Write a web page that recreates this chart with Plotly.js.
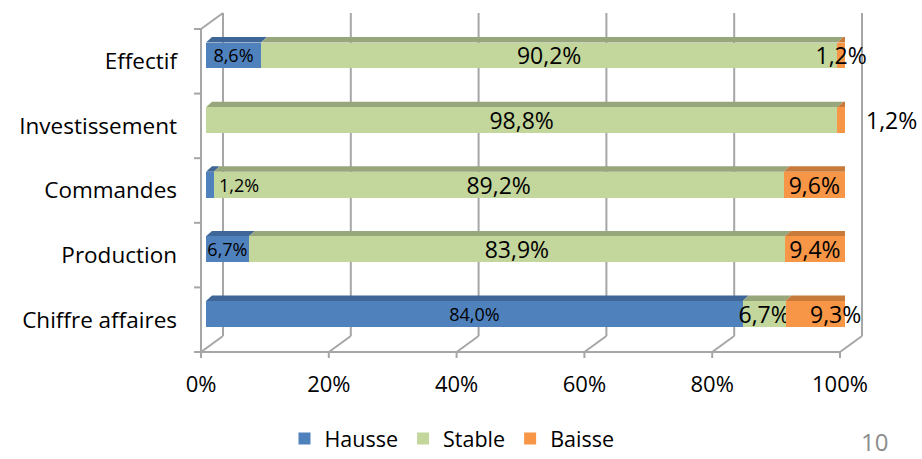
<!DOCTYPE html>
<html>
<head>
<meta charset="utf-8">
<script src="https://cdn.plot.ly/plotly-3.0.1.min.js"></script>
<style>html,body{margin:0;padding:0;background:#fff;}#chart{width:922px;height:459px;}</style>
</head>
<body>
<div id="chart"></div>
<script>
// ---- data (top-to-bottom order as in the chart) ----
const categories = ['Effectif', 'Investissement', 'Commandes', 'Production', 'Chiffre affaires'];
const hausse = [8.6, 0, 1.2, 6.7, 84.0];
const stable = [90.2, 98.8, 89.2, 83.9, 6.7];
const baisse = [1.2, 1.2, 9.6, 9.4, 9.3];
const seriesNames = ['Hausse', 'Stable', 'Baisse'];
const xTickVals = [0, 20, 40, 60, 80, 100];
const xTickText = ['0%', '20%', '40%', '60%', '80%', '100%'];
const pageNumber = '10';

// ---- style / geometry ----
const FONT = 'Open Sans, Lato, sans-serif';
const frontColors = ['#4F81BD', '#C3D69B', '#F79646'];
const topColors = ['#3E6797', '#98A67B', '#C77A3A'];
const sideColors = ['#35598A', '#8A9870', '#B4682B'];
const L = 206, W = 639, T = 29, B = 352, H = B - T;   // plot area in px
const FIG_W = 922, FIG_H = 459;
const pxX = W / 100, pxY = H / 5;
const barWidth = 0.40, barOffset = -0.11;
const depthX = 6 / pxX, depthY = 5.5 / pxY;
const gridColor = '#A6A6A6';

const n = categories.length;
const pos = categories.map((c, i) => n - 1 - i);
const series = [hausse, stable, baisse];
const fmt = v => v.toFixed(1).replace('.', ',') + '%';
const r3 = v => Math.round(v * 1000) / 1000;

// labels drawn as annotations instead of centred inside the bar
const specialLabels = [
  {s: 0, i: 2, mode: 'afterSegment', shift: 3},
  {s: 2, i: 1, mode: 'outsideEnd', shift: 19},
  {s: 2, i: 4, mode: 'centerShift', shift: 20}
];
const isSpecial = (s, i) => specialLabels.some(o => o.s === s && o.i === i);
const labelSizes = [18, 23, 23];

const traces = series.map((vals, s) => ({
  type: 'bar',
  orientation: 'h',
  name: seriesNames[s],
  x: vals,
  y: pos,
  width: barWidth,
  offset: barOffset,
  marker: {color: frontColors[s], line: {width: 0}},
  text: vals.map((v, i) => (v > 0 && !isSpecial(s, i)) ? fmt(v) : ''),
  textposition: 'inside',
  insidetextanchor: 'middle',
  constraintext: 'none',
  textangle: 0,
  cliponaxis: false,
  insidetextfont: {family: FONT, size: labelSizes[s], color: '#000'},
  outsidetextfont: {family: FONT, size: labelSizes[s], color: '#000'},
  hoverinfo: 'skip'
}));

// ---- 3D faces of bars, computed from the data ----
const shapes = [];
for (let i = 0; i < n; i++) {
  let cum = 0;
  let lastS = -1;
  for (let s = 0; s < 3; s++) if (series[s][i] > 0) lastS = s;
  for (let s = 0; s < 3; s++) {
    const v = series[s][i];
    if (v <= 0) continue;
    const x0 = r3(cum), x1 = r3(cum + v);
    const yb = r3(pos[i] + barOffset), yt = r3(pos[i] + barOffset + barWidth);
    const dx = r3(depthX), dy = r3(depthY);
    shapes.push({
      type: 'path', xref: 'x', yref: 'y', layer: 'between',
      path: `M${x0},${yt} L${x1},${yt} L${r3(x1 + dx)},${r3(yt + dy)} L${r3(x0 + dx)},${r3(yt + dy)} Z`,
      fillcolor: topColors[s], line: {width: 0}
    });
    if (s === lastS) {
      shapes.push({
        type: 'path', xref: 'x', yref: 'y', layer: 'between',
        path: `M${x1},${yb} L${x1},${yt} L${r3(x1 + dx)},${r3(yt + dy)} L${r3(x1 + dx)},${r3(yb + dy)} Z`,
        fillcolor: sideColors[s], line: {width: 0}
      });
    }
    cum = cum + v;
  }
}

// ---- 3D box (walls / floor) in paper coords ----
const paperX = px => (px - L) / W;
const paperY = py => (B - py) / H;
const frontX = t => L - 5 + t * pxX;
const backDX = 22, backDY = 16, backTop = 13;
function line(x0, y0, x1, y1) {
  shapes.push({type: 'line', xref: 'paper', yref: 'paper', layer: 'below',
    x0: paperX(x0), y0: paperY(y0), x1: paperX(x1), y1: paperY(y1),
    line: {color: gridColor, width: 2}});
}
xTickVals.forEach(t => {
  const fx = frontX(t), bx = fx + backDX;
  line(bx, backTop, bx, B - backDY);        // back wall gridline
  line(fx, B, bx, B - backDY);              // floor diagonal
  line(fx, B, fx, B + 6);                   // tick mark
});
line(frontX(0), B, frontX(100), B);          // front axis
line(frontX(0), T, frontX(0), B);            // left front edge
line(frontX(0), T, frontX(0) + backDX, backTop);
for (let k = 0; k <= n; k++) {
  const y = B - k * pxY;
  line(frontX(0) - 7, y, frontX(0), y);
}

// ---- annotations for special labels + page number ----
const annotations = specialLabels.map(o => {
  const v = series[o.s][o.i];
  let cumStart = 0;
  for (let s = 0; s < o.s; s++) cumStart += series[s][o.i];
  const cumEnd = cumStart + v;
  const isCenter = o.mode === 'centerShift';
  return {
    x: isCenter ? (cumStart + cumEnd) / 2 : cumEnd,
    y: pos[o.i] + barOffset + barWidth / 2, xref: 'x', yref: 'y',
    text: fmt(v), showarrow: false, xanchor: isCenter ? 'center' : 'left', yanchor: 'middle',
    xshift: o.shift,
    font: {family: FONT, size: labelSizes[o.s], color: '#000'}
  };
});
annotations.push({
  xref: 'paper', yref: 'paper', x: paperX(874), y: paperY(441),
  text: pageNumber, showarrow: false, xanchor: 'center', yanchor: 'middle',
  font: {family: FONT, size: 24, color: '#8C8C8C'}
});

const layout = {
  width: FIG_W, height: FIG_H,
  margin: {l: L, r: FIG_W - L - W, t: T, b: FIG_H - B, pad: 0, autoexpand: false},
  paper_bgcolor: '#fff', plot_bgcolor: 'rgba(0,0,0,0)',
  barmode: 'stack',
  showlegend: true,
  legend: {orientation: 'h', x: paperX(452), xanchor: 'center', y: paperY(459), yanchor: 'bottom',
    font: {family: FONT, size: 21.5, color: '#000'}, traceorder: 'normal', itemclick: false,
    bgcolor: 'rgba(0,0,0,0)'},
  xaxis: {range: [0, 100.001], tickvals: xTickVals, ticktext: xTickText, showgrid: false, zeroline: false,
    showline: false, ticks: '', tickfont: {family: FONT, size: 22, color: '#000'},
    ticklabelshift: -5, ticklabelstandoff: 17, fixedrange: true},
  yaxis: {range: [-0.5, n - 0.5], tickvals: pos, ticktext: categories, showgrid: false, zeroline: false,
    showline: false, ticks: '', tickfont: {family: FONT, size: 22.5, color: '#000'},
    ticklabelstandoff: 28, fixedrange: true},
  shapes: shapes,
  annotations: annotations,
  font: {family: FONT}
};

Plotly.newPlot('chart', traces, layout, {displayModeBar: false, staticPlot: true});
</script>
</body>
</html>
